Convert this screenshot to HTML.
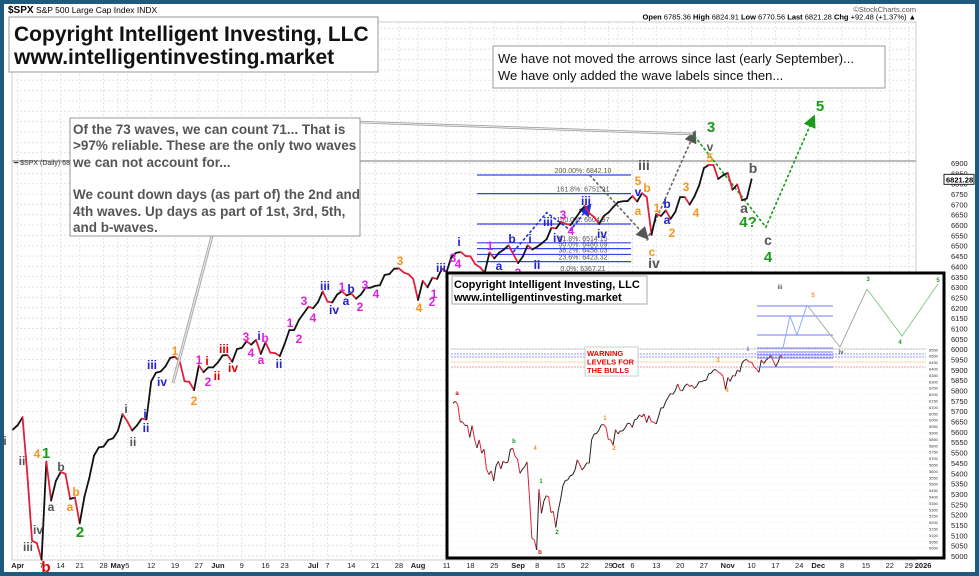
<!DOCTYPE html>
<html><head><meta charset="utf-8"><style>
html,body{margin:0;padding:0;background:#1d5a7e;}
svg{display:block;font-family:"Liberation Sans",Arial,sans-serif;}
</style></head><body>
<svg id="c" width="979" height="576" viewBox="0 0 979 576" xmlns="http://www.w3.org/2000/svg">
<rect x="4" y="3" width="971" height="569" fill="#fff"/>
<rect x="12" y="22" width="904" height="538" fill="none" stroke="#ccc" stroke-width="1"/>
<g id="grid"></g>
<g>
<text x="8" y="13" font-size="8.5"><tspan font-weight="bold" font-size="10">$SPX</tspan> S&amp;P 500 Large Cap Index INDX</text>
<text x="8" y="22" font-size="7.5">10-Nov-2025 2:14pm</text>
<text x="916" y="12" font-size="7.5" fill="#555" text-anchor="end">©StockCharts.com</text>
<text x="916" y="19.5" font-size="7.5" text-anchor="end"><tspan font-weight="bold">Open</tspan> 6785.36 <tspan font-weight="bold">High</tspan> 6824.91 <tspan font-weight="bold">Low</tspan> 6770.56 <tspan font-weight="bold">Last</tspan> 6821.28 <tspan font-weight="bold">Chg</tspan> +92.48 (+1.37%) ▲</text>
</g>
<line x1="12" y1="161" x2="916" y2="161" stroke="#bbb" stroke-width="2"/>
<text x="14" y="165" font-size="7" fill="#333">━ $SPX (Daily) 6821.28</text>
<g id="yaxis"></g>
<g id="xaxis"></g>
<g id="fib"></g>
<g id="proj"></g>
<g id="series"></g>
<g id="labels"></g>
<rect x="493" y="46" width="392" height="42" fill="#fff" stroke="#999"/>
<text x="498" y="63" font-size="13" fill="#111">We have not moved the arrows since last (early September)...</text>
<text x="498" y="80" font-size="13" fill="#111">We have only added the wave labels since then...</text>
<g>
<line x1="358" y1="122" x2="693" y2="134" stroke="#999" stroke-width="2.5"/>
<line x1="358" y1="122" x2="693" y2="134" stroke="#eee" stroke-width="1"/>
<line x1="212" y1="236" x2="173" y2="383" stroke="#aaa" stroke-width="3"/>
<line x1="212" y1="236" x2="173" y2="383" stroke="#eee" stroke-width="1"/>
<rect x="70" y="118" width="290" height="118" fill="#fff" stroke="#999"/>
<g font-size="13.5" font-weight="bold" fill="#555">
<text x="73" y="134">Of the 73 waves, we can count 71... That is</text>
<text x="73" y="150">&gt;97% reliable. These are the only two waves</text>
<text x="73" y="167">we can not account for...</text>
<text x="73" y="199">We count down days (as part of) the 2nd and</text>
<text x="73" y="216">4th waves. Up days as part of 1st, 3rd, 5th,</text>
<text x="73" y="232">and b-waves.</text>
</g></g>
<rect x="9" y="17" width="369" height="55" fill="#fff" stroke="#999"/>
<text x="14" y="41" font-size="21" font-weight="bold" fill="#111">Copyright Intelligent Investing, LLC</text>
<text x="14" y="64" font-size="21" font-weight="bold" fill="#111">www.intelligentinvesting.market</text>
<g id="inset">
<rect x="447" y="273" width="497" height="285" fill="#fff" stroke="#000" stroke-width="3"/>
</g>
<rect x="0" y="0" width="979" height="576" fill="none" stroke="#1d5a7e" stroke-width="8"/>
</svg>
<script>
const dates=["3/31","4/1","4/2","4/3","4/4","4/7","4/8","4/9","4/10","4/11","4/14","4/15","4/16","4/17","4/21","4/22","4/23","4/24","4/25","4/28","4/29","4/30","5/1","5/2","5/5","5/6","5/7","5/8","5/9","5/12","5/13","5/14","5/15","5/16","5/19","5/20","5/21","5/22","5/23","5/27","5/28","5/29","5/30","6/2","6/3","6/4","6/5","6/6","6/9","6/10","6/11","6/12","6/13","6/16","6/17","6/18","6/20","6/23","6/24","6/25","6/26","6/27","6/30","7/1","7/2","7/3","7/7","7/8","7/9","7/10","7/11","7/14","7/15","7/16","7/17","7/18","7/21","7/22","7/23","7/24","7/25","7/28","7/29","7/30","7/31","8/1","8/4","8/5","8/6","8/7","8/8","8/11","8/12","8/13","8/14","8/15","8/18","8/19","8/20","8/21","8/22","8/25","8/26","8/27","8/28","8/29","9/2","9/3","9/4","9/5","9/8","9/9","9/10","9/11","9/12","9/15","9/16","9/17","9/18","9/19","9/22","9/23","9/24","9/25","9/26","9/29","9/30","10/1","10/2","10/3","10/6","10/7","10/8","10/9","10/10","10/13","10/14","10/15","10/16","10/17","10/20","10/21","10/22","10/23","10/24","10/27","10/28","10/29","10/30","10/31","11/3","11/4","11/5","11/6","11/7","11/10"];
const closes=[5612,5633,5671,5396,5074,5062,4982,5457,5268,5363,5406,5397,5276,5283,5158,5288,5376,5485,5525,5529,5561,5569,5604,5686,5650,5607,5631,5664,5660,5844,5886,5892,5917,5958,5963,5940,5845,5842,5802,5922,5889,5912,5912,5936,5970,5971,5939,6000,6006,6038,6022,6045,5977,6033,5983,5981,5967,6025,6092,6092,6141,6173,6205,6198,6227,6279,6230,6226,6263,6280,6260,6269,6244,6264,6297,6297,6306,6309,6359,6363,6389,6390,6371,6362,6339,6238,6330,6299,6345,6340,6389,6374,6446,6466,6469,6450,6449,6411,6396,6370,6467,6439,6466,6481,6502,6460,6416,6448,6502,6482,6495,6512,6532,6587,6584,6615,6606,6600,6631,6664,6693,6656,6638,6605,6644,6661,6688,6711,6715,6716,6740,6714,6754,6735,6553,6654,6644,6671,6630,6664,6735,6735,6699,6738,6792,6875,6891,6890,6823,6840,6852,6771,6796,6720,6728,6821];
const earlyCloses=[6129,6144,6117,5983,5983,5955,5956,5861,5955,5850,5779,5842,5739,5770,5615,5572,5599,5522,5639,5675,5615,5676,5663,5668,5768,5777,5712,5693,5581];
const xTickLabels=["Apr","7","14","21","28","May","5","12","19","27","Jun","9","16","23","Jul","7","14","21","28","Aug","11","18","25","Sep","8","15","22","29","Oct","6","13","20","27","Nov","10","17","24","Dec","8","15","22","29","2026"];
const xTickIdx=[1,6,10,14,19,22,24,29,34,39,43,48,53,57,63,66,71,76,81,85,91,96,101,106,110,115,120,125,127,130,135,140,145,150,155,160,165,169,174,179,184,188,191];
const yTicks=[5000,5050,5100,5150,5200,5250,5300,5350,5400,5450,5500,5550,5600,5650,5700,5750,5800,5850,5900,5950,6000,6050,6100,6150,6200,6250,6300,6350,6400,6450,6500,6550,6600,6650,6700,6750,6800,6850,6900];
const fibLevels=["0.0%","23.6%","38.2%","50.0%","61.8%","100.0%","161.8%","200.00%"];
const fibValues=[6367.21,6423.32,6458.03,6486.09,6514.15,6604.97,6751.91,6842.10];
const projBlue=[[105,6470],[112,6660],[117,6575],[121,6692]];
const projGray1=[[121,6842],[133,6540]];
const projGray2=[[133,6525],[143,7045]];
const projGreen=[[143,7030],[158,6590],[168,7120]];
const NS="http://www.w3.org/2000/svg";
const X0=13,DX=4.765;
const xs=i=>X0+i*DX;
const ys=v=>556-(v-5000)*(393/1900);
function mk(tag,attrs,parent){const e=document.createElementNS(NS,tag);for(const k in attrs)e.setAttribute(k,attrs[k]);parent.appendChild(e);return e;}
const grid=document.getElementById('grid');
for(const v of yTicks.concat([6950,7000,7050,7100,7150,7200,7250,7300,7350,7400,7450,7500,7550,7600,7650])){const y=ys(v);if(y<22)continue;
 const l=mk('line',{x1:12,x2:916,y1:y,y2:y,stroke:'#e4e4e4','stroke-dasharray':'2,2'},grid);
 
 }
for(const i of xTickIdx){const x=xs(i);if(x>916)continue;
 const l=mk('line',{x1:x,x2:x,y1:22,y2:560,stroke:'#e4e4e4','stroke-dasharray':'2,2'},grid);
 
 }
const ya=document.getElementById('yaxis');
yTicks.forEach(v=>{const t=mk('text',{x:951,y:ys(v)+3,'font-size':7.5,fill:'#222'},ya);t.textContent=v;
 
 });
const tag=mk('rect',{x:944,y:ys(6821)-5,width:30,height:10,fill:'#fff',stroke:'#222'},ya);


const tt=mk('text',{x:946,y:ys(6821)+3,'font-size':7.5,'font-weight':'bold'},ya);tt.textContent='6821.28';


const xa=document.getElementById('xaxis');
xTickLabels.forEach((s,k)=>{const x=xs(xTickIdx[k]);if(x>935)return;const t=mk('text',{x:x,y:568,'font-size':7.5,'text-anchor':'middle',fill:'#222','font-weight':isNaN(+s)||s==='2026'?'bold':'normal'},xa);t.textContent=s;
 
 });
const fib=document.getElementById('fib');
fibLevels.forEach((lab,k)=>{const y=ys(fibValues[k]);
 const l=mk('line',{x1:477,x2:631,y1:y,y2:y,stroke:'#3344ee','stroke-width':1.2},fib);
 
 
 const t=mk('text',{x:583,y:y-2,'font-size':7,fill:'#555','text-anchor':'middle'},fib);t.textContent=lab+': '+fibValues[k].toFixed(2);
 
 });
const proj=document.getElementById('proj');
const defs=mk('defs',{},proj);
[['ab','#2233dd'],['ag','#555'],['agr','#1a9a1a']].forEach(([id,c])=>{const m=mk('marker',{id:id,markerWidth:8,markerHeight:8,refX:6,refY:4,orient:'auto'},defs);mk('path',{d:'M0,0 L8,4 L0,8 z',fill:c},m);});
function dotted(pts,c,mid,name){const p=mk('polyline',{points:pts.map(([i,v])=>xs(i)+','+ys(v)).join(' '),fill:'none',stroke:c,'stroke-width':1.6,'stroke-dasharray':'3,2','marker-end':'url(#'+mid+')'},proj);
 
 }
dotted(projBlue,'#2233dd','ab','projection-blue');
dotted(projGray1,'#666','ag','projection-gray-down');
dotted(projGray2,'#666','ag','projection-gray-up');
dotted(projGreen,'#1a9a1a','agr','projection-green');
const ser=document.getElementById('series');
for(let i=1;i<closes.length;i++){const dn=closes[i]<closes[i-1];
 const l=mk('line',{x1:xs(i-1),y1:ys(closes[i-1]),x2:xs(i),y2:ys(closes[i]),stroke:dn?'#e0203a':'#111','stroke-width':1.8,'stroke-linecap':'round'},ser);
 
 }
const G='#555',O='#f7941d',GR='#1a9a1a',B='#2222cc',M='#e020e0',R='#e00000';
const labs=[["i",5,445,G],["ii",22,465,G],["4",37,458,O],["iii",28,551,G],["iv",38,534,G],["b",46,572,R,15],["1",46,458,GR,15],["b",61,471,G],["a",51,511,G],["b",76,496,O],["a",70,511,O],["2",80,537,GR,15],["i",126,413,G],["ii",133,446,G],["i",145,418,B],["ii",146,432,B],["iii",152,369,B],["iv",162,386,B],["1",175,355,O],["2",194,405,O],["1",199,364,M],["i",207,365,R],["2",208,386,M],["ii",217,380,R],["iii",224,353,R],["iv",233,372,R],["3",246,341,M],["4",251,357,M],["i",259,340,B],["b",265,342,M],["a",261,364,M],["ii",279,368,B],["1",290,327,M],["2",299,343,M],["3",304,305,M],["4",313,322,M],["iii",325,290,B],["iv",334,314,B],["1",342,291,M],["b",351,293,B],["a",346,305,B],["3",365,289,M],["4",376,298,M],["2",360,311,M],["3",400,265,O],["4",419,312,O],["1",434,298,M],["2",432,306,M],["iii",441,272,B],["i",459,246,B],["3",453,262,M],["4",458,268,M],["1",490,250,M],["a",499,270,B],["b",512,243,B],["2",518,277,M],["i",530,243,B],["ii",537,269,B],["iii",548,226,B],["3",563,219,M],["iv",558,242,B],["4",571,235,M],["iii",586,205,B],["iv",602,238,B],["5",638,185,O],["b",647,192,O],["v",638,196,B],["a",638,215,O],["1",657,212,O],["b",667,208,B],["a",667,224,B],["2",672,237,O],["3",686,191,O],["4",696,217,O],["5",710,162,O],["3",711,132,GR,15],["v",710,151,G],["iii",644,170,G,14],["c",652,256,O],["iv",654,268,G,14],["b",753,173,G,14],["a",744,213,G,14],["4?",748,227,GR,15],["c",768,245,G,14],["4",768,262,GR,15],["5",820,111,GR,15]];
const lg=document.getElementById('labels');
labs.forEach(([s,x,y,c,f])=>{const t=mk('text',{x:x,y:y,fill:c,'font-size':f||12,'font-weight':'bold','text-anchor':'middle'},lg);t.textContent=s;
 
 });
// inset chart
const inset=document.getElementById('inset');
const IX0=453,IDX=2.39;
const ixs=i=>IX0+i*IDX;
const iys=v=>550-(v-4982)*0.128;
for(let v=5000;v<=6550;v+=50){const y=iys(v);
 const l=mk('line',{x1:450,x2:926,y1:y,y2:y,stroke:'#eee','stroke-dasharray':'1,2'},inset);
 
 
 const t=mk('text',{x:929,y:y+2,'font-size':4,fill:'#333'},inset);t.textContent=v;
 
 }
[[349,'#bbb'],[354,'#99f'],[357,'#99f'],[362,'#fc8'],[367,'#f99']].forEach(([y,c])=>{const l=mk('line',{x1:451,x2:926,y1:y,y2:y,stroke:c,'stroke-width':1,'stroke-dasharray':'2,1'},inset);
 
 });
const insetCloses=earlyCloses.concat(closes.slice(0,110));
for(let i=1;i<insetCloses.length;i++){const dn=insetCloses[i]<insetCloses[i-1];
 const l=mk('line',{x1:ixs(i-1),y1:iys(insetCloses[i-1]),x2:ixs(i),y2:iys(insetCloses[i]),stroke:dn?'#e0203a':'#222','stroke-width':1},inset);
 
 }
[[757,306],[757,316],[757,335],[757,348],[757,352],[757,355],[757,358],[757,367]].forEach(([x,y])=>{const l=mk('line',{x1:x,x2:833,y1:y,y2:y,stroke:'#77f','stroke-width':1},inset);
 
 });
[['#8af','783,348 790,316 797,335 807,305'],['#aaa','807,305 840,347 867,289'],['#8c8','867,289 902,336 938,284']].forEach(([c,p])=>{const l=mk('polyline',{points:p,fill:'none',stroke:c,'stroke-width':1},inset);
 
 });
const ib=mk('rect',{x:452,y:276,width:195,height:28,fill:'#fff',stroke:'#aaa'},inset);


const it1=mk('text',{x:454,y:288,'font-size':11,'font-weight':'bold'},inset);it1.textContent='Copyright Intelligent Investing, LLC';


const it2=mk('text',{x:454,y:301,'font-size':11,'font-weight':'bold'},inset);it2.textContent='www.intelligentinvesting.market';


const wb=mk('rect',{x:585,y:347,width:53,height:29,fill:'#fff',stroke:'#ccc'},inset);


['WARNING','LEVELS FOR','THE BULLS'].forEach((s,k)=>{const t=mk('text',{x:587,y:356+k*8.5,'font-size':7.5,'font-weight':'bold',fill:'#e00'},inset);t.textContent=s;
 
 });
const insLabs=[["a",457,395,R],["b",514,443,GR],["4",535,450,O],["1",541,483,GR],["2",557,534,GR],["b",540,554,R],["1",605,420,O],["2",614,450,O],["3",718,362,O],["4",727,392,O],["i",748,351,B],["3",868,281,GR],["4",900,344,GR],["5",938,282,GR],["iii",780,289,G],["5",813,297,O],["iv",841,354,G]];
insLabs.forEach(([s,x,y,c])=>{const t=mk('text',{x:x,y:y,fill:c,'font-size':6,'font-weight':'bold','text-anchor':'middle'},inset);t.textContent=s;
 
 });
</script>
</body></html>
